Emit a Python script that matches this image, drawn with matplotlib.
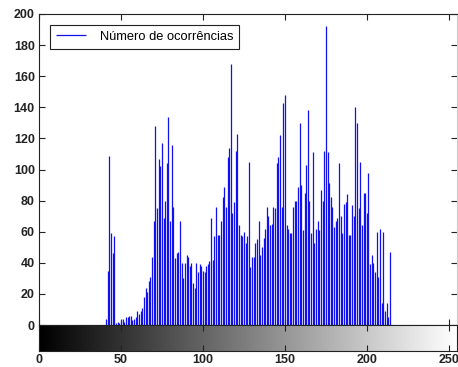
import numpy as np
import matplotlib.pyplot as plt

# Histogram data: gray level -> number of occurrences (levels outside 41..214 are zero)
first_level = 41
counts_from_first = [
    4, 35, 109, 59, 46, 57, 1, 2, 1, 3,          # 41-50
    4, 2, 5, 5, 6, 6, 3, 4, 5, 9,                # 51-60
    7, 9, 11, 18, 24, 21, 28, 31, 44, 67,        # 61-70
    128, 75, 107, 102, 117, 69, 80, 104, 134, 67,  # 71-80
    116, 76, 43, 46, 47, 67, 40, 30, 40, 45,     # 81-90
    44, 38, 40, 27, 24, 40, 34, 39, 38, 35,      # 91-100
    34, 38, 39, 41, 69, 42, 57, 76, 58, 58,      # 101-110
    67, 82, 89, 76, 108, 114, 168, 72, 79, 112,  # 111-120
    123, 64, 58, 57, 60, 53, 57, 105, 37, 44,    # 121-130
    44, 53, 55, 67, 45, 50, 56, 62, 76, 70,      # 131-140
    64, 65, 76, 75, 104, 108, 122, 76, 143, 148,  # 141-150
    64, 62, 59, 59, 76, 80, 80, 89, 130, 90,     # 151-160
    61, 85, 103, 138, 80, 59, 111, 53, 62, 67,   # 161-170
    61, 87, 80, 112, 192, 111, 91, 82, 76, 63,   # 171-180
    67, 69, 104, 70, 59, 78, 79, 84, 58, 58,     # 181-190
    77, 70, 140, 130, 75, 105, 64, 85, 85, 72,   # 191-200
    98, 39, 45, 40, 34, 60, 31, 62, 14, 60,      # 201-210
    9, 14, 5, 47,                                # 211-214
]
levels = np.arange(first_level, first_level + len(counts_from_first))

y_ticks = list(range(0, 201, 20))
x_ticks = list(range(0, 251, 50))
legend_label = 'Número de ocorrências'

plt.rcParams['font.family'] = ['Liberation Sans', 'DejaVu Sans']

W, H = 458, 367
fig = plt.figure(figsize=(W / 100, H / 100), dpi=100)

left, right, top, mid, bottom = 39, 457, 14, 325, 351
ax = fig.add_axes([left / W, 1 - mid / H, (right - left) / W, (mid - top) / H])
cax = fig.add_axes([left / W, 1 - bottom / H, (right - left) / W, (bottom - mid) / H])

# stems
ax.vlines(levels, 0, counts_from_first, color='#1010f0', lw=0.9, label=legend_label)
ax.set_xlim(0, 255)
ax.set_ylim(0, 200)
ax.set_yticks(y_ticks)
ax.set_xticks(x_ticks)
ax.set_xticklabels([])
ax.tick_params(direction='in', top=True, right=True, length=4, width=0.8,
               labelsize=9, colors='#222222', pad=3)
for lab in ax.get_yticklabels():
    lab.set_fontweight('bold')
for s in ax.spines.values():
    s.set_color('#222222')
    s.set_linewidth(0.8)
ax.spines['right'].set_color('#cccccc')

leg = ax.legend(loc='upper left',
                bbox_to_anchor=((50 - left) / (right - left), (mid - 25) / (mid - top)),
                borderaxespad=0, fancybox=False, framealpha=1, edgecolor='#222222',
                fontsize=9.3, handlelength=2.3, handletextpad=1.1, borderpad=0.45)
leg.get_frame().set_linewidth(0.8)

# grayscale bar
gradient = np.arange(256)[None, :]
cax.imshow(gradient, cmap='gray', aspect='auto', extent=[0, 255, 0, 1], vmin=0, vmax=255)
cax.set_xlim(0, 255)
cax.set_ylim(0, 1)
cax.set_yticks([])
cax.set_xticks(x_ticks)
cax.tick_params(direction='in', top=True, length=4, width=0.8,
                labelsize=9, colors='#222222', pad=2)
for lab in cax.get_xticklabels():
    lab.set_fontweight('bold')
for s in cax.spines.values():
    s.set_color('#222222')
    s.set_linewidth(0.8)

fig.savefig('out.png', dpi=100)
